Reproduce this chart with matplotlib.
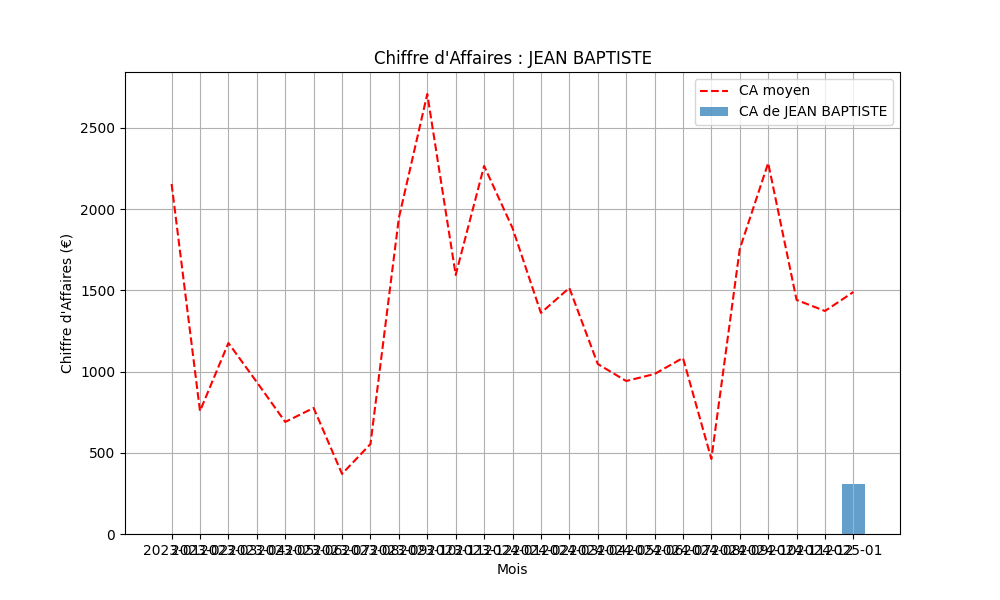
import matplotlib
matplotlib.use("Agg")
import matplotlib.pyplot as plt

mois = ["2023-%02d" % m for m in range(1, 13)] + ["2024-%02d" % m for m in range(1, 13)] + ["2025-01"]
ca_moyen = [2155, 757, 1176, 935, 690, 776, 370, 554, 1946, 2709, 1595, 2266, 1884,
            1361, 1515, 1047, 942, 985, 1084, 462, 1755, 2284, 1441, 1373, 1490]
# CA du client : zero sauf le dernier mois
ca_client = [0] * 24 + [310]

fig, ax = plt.subplots(figsize=(10, 6), dpi=100)
ax.plot(mois, ca_moyen, color='red', linestyle='--', label='CA moyen')
ax.bar(mois, ca_client, alpha=0.7, label='CA de JEAN BAPTISTE')
ax.set_title("Chiffre d'Affaires : JEAN BAPTISTE")
ax.set_xlabel('Mois')
ax.set_ylabel("Chiffre d'Affaires (€)")
ax.grid(True)
ax.legend()
fig.savefig('out.png')
